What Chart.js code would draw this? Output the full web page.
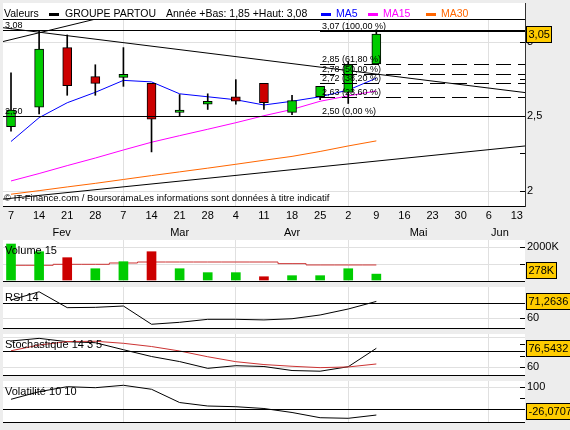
<!DOCTYPE html>
<html lang="fr">
<head>
<meta charset="utf-8">
<title>Groupe Partou</title>
<script src="https://cdn.jsdelivr.net/npm/chart.js@4.4.1/dist/chart.umd.min.js"></script>
<style>
  html, body { margin: 0; padding: 0; background: #ededed; }
  #board { position: relative; width: 570px; height: 430px; overflow: hidden; background: #ededed; }
  #board canvas { position: absolute; left: 0; }
</style>
</head>
<body>
<div id="board">
  <canvas id="priceChart" width="570" height="240" style="top:0px"></canvas>
  <canvas id="volumeChart" width="570" height="42" style="top:240px"></canvas>
  <canvas id="rsiChart" width="570" height="42" style="top:287px"></canvas>
  <canvas id="stochChart" width="570" height="42" style="top:334px"></canvas>
  <canvas id="volatChart" width="570" height="42" style="top:381px"></canvas>
</div>
<script>
// week ticks, 7 Feb -> 13 Jun
const weekLabels = ['7', '14', '21', '28', '7', '14', '21', '28', '4', '11', '18', '25', '2', '9', '16', '23', '30', '6', '13'];
const monthLabels = ['Fev', 'Mar', 'Avr', 'Mai', 'Jun'];
const monthLabelAt = [1.8, 6.0, 10.0, 14.5, 17.4];
const monthStarts = [4, 8, 12, 17];

// weekly candles
const open  = [2.43, 2.56, 2.96, 2.765, 2.76, 2.72, 2.525, 2.58, 2.63, 2.72, 2.525, 2.63, 2.66, 2.85];
const high  = [2.79, 3.07, 3.045, 2.845, 2.96, 2.72, 2.645, 2.65, 2.745, 2.72, 2.64, 2.70, 2.865, 3.08];
const low   = [2.40, 2.515, 2.64, 2.64, 2.70, 2.26, 2.50, 2.545, 2.58, 2.545, 2.51, 2.61, 2.585, 2.85];
const close = [2.54, 2.95, 2.705, 2.72, 2.78, 2.48, 2.54, 2.60, 2.60, 2.59, 2.605, 2.70, 2.845, 3.05];

const ma5  = [2.33, 2.49, 2.59, 2.66, 2.74, 2.73, 2.65, 2.63, 2.61, 2.575, 2.60, 2.63, 2.675, 2.755];
const ma15 = [2.065, 2.115, 2.168, 2.219, 2.273, 2.325, 2.369, 2.412, 2.456, 2.503, 2.545, 2.60, 2.636, 2.669];
const ma30 = [1.976, 2.0, 2.025, 2.049, 2.075, 2.101, 2.126, 2.151, 2.177, 2.204, 2.23, 2.263, 2.30, 2.334];

// trend lines as (week, price) end points
const trendHigh  = [{ x: -0.3, y: 3.094 }, { x: 18.3, y: 2.658 }];
const trendSteep = [{ x: -0.3, y: 3.0 }, { x: 4, y: 3.197 }];
const trendLow   = [{ x: -0.3, y: 1.943 }, { x: 18.3, y: 2.30 }];

const yearLow = 1.85;
const yearHigh = 3.08;
const supportLevel = 2.50;
const fibLevels = [3.07, 2.85, 2.78, 2.72, 2.63, 2.50];
const fibRatios = [100, 61.8, 50, 38.2, 23.6, 0];
const fibFromWeek = 11;

// volume in thousands
const volume     = [2200, 1730, 1365, 690, 1120, 1730, 690, 450, 450, 200, 265, 265, 690, 360];
const volumeMa15 = [900, 900, 960, 960, 1040, 1100, 1100, 1100, 1100, 1100, 1000, 920, 920, 920];
const lastVolume = 278;

const rsi14  = [72.2, 77.7, 67.1, 67.3, 68.2, 56.0, 57.3, 59.3, 59.3, 58.9, 59.7, 62.2, 66.2, 71.2636];
const stochK = [82.9, 85.2, 82.3, 81.4, 75.3, 69.4, 65.0, 59.1, 61.4, 60.7, 57.2, 56.6, 60.5, 76.5432];
const stochD = [74.4, 79.4, 82.4, 82.7, 80.9, 78.1, 74.2, 69.2, 64.9, 62.4, 60.9, 59.7, 60.3, 62.9];
const volatility = [45.5, 80, 102.7, 98.2, 109.1, 91, 30.7, 15, 11.8, 3.6, -14.5, -38.2, -40.9, -26.0707];

const FONT = '"Liberation Sans", Arial, Helvetica, sans-serif';
const GREEN = '#00cc00';
const RED = '#cc0000';
const GRID = '#e0e0e0';
const X_MIN = -0.285;
const X_MAX = 18.29;

Chart.defaults.font.family = FONT;
Chart.defaults.font.size = 11;
Chart.defaults.color = '#000';

const weeks = close.map((_, i) => i);
const fmt = (v, d) => v.toFixed(d).replace('.', ',');
const crisp = v => Math.round(v) + 0.5;
const points = values => values.map((v, i) => ({ x: i, y: v }));

function hline(ctx, x0, x1, y) {
  ctx.beginPath();
  ctx.moveTo(x0, y);
  ctx.lineTo(x1, y);
  ctx.stroke();
}

function lineDs(label, values, color, order) {
  return {
    type: 'line', label, data: Array.isArray(values) && typeof values[0] === 'number' ? points(values) : values,
    borderColor: color, borderWidth: 1, pointRadius: 0, tension: 0, order: order || 2
  };
}

// white panel, grid, reference line, right ticks, bottom border, name and value box
function panelDecor(cfg) {
  return {
    id: 'panelDecor',
    beforeDraw(chart) {
      const { ctx, chartArea: a } = chart;
      const top = a.top - (cfg.header || 0);
      ctx.save();
      ctx.fillStyle = '#fff';
      ctx.fillRect(a.left, top, a.right - a.left + (cfg.rightBorder ? 1 : 0), a.bottom - top);
      ctx.restore();
    },
    beforeDatasetsDraw(chart) {
      const { ctx, chartArea: a, scales: { y } } = chart;
      ctx.save();
      ctx.strokeStyle = GRID;
      ctx.lineWidth = 1;
      (cfg.grid || []).forEach(v => hline(ctx, a.left, a.right, crisp(y.getPixelForValue(v))));
      ctx.restore();
    },
    afterDatasetsDraw(chart) {
      const { ctx, chartArea: a, scales: { y } } = chart;
      ctx.save();
      ctx.strokeStyle = '#000';
      ctx.lineWidth = 1;
      if (cfg.ref != null) hline(ctx, a.left, a.right, crisp(y.getPixelForValue(cfg.ref)));
      y.ticks.forEach(t => hline(ctx, a.right - 5, a.right, crisp(y.getPixelForValue(t.value))));
      hline(ctx, a.left, a.right, a.bottom + 0.5);
      if (cfg.rightBorder) {
        ctx.strokeStyle = '#333';
        ctx.beginPath();
        ctx.moveTo(a.right + 0.5, a.top - (cfg.header || 0));
        ctx.lineTo(a.right + 0.5, a.bottom + 1);
        ctx.stroke();
      }
      if (cfg.title) {
        ctx.fillStyle = '#000';
        ctx.font = '11px ' + FONT;
        ctx.fillText(cfg.title, a.left + 2, a.top + 14);
      }
      ctx.restore();
    },
    afterDraw(chart) {
      if (cfg.boxValue == null) return;
      const { ctx, chartArea: a, scales: { y } } = chart;
      ctx.save();
      ctx.font = '11px ' + FONT;
      const w = Math.round(ctx.measureText(cfg.boxText).width) + 5;
      const h = 17;
      let top = Math.round(y.getPixelForValue(cfg.boxValue) - h / 2);
      top = Math.max(a.top, Math.min(top, a.bottom - h - 2));
      ctx.fillStyle = '#ffcc00';
      ctx.fillRect(a.right + 1, top, w, h);
      ctx.strokeStyle = '#000';
      ctx.lineWidth = 1;
      ctx.strokeRect(a.right + 1.5, top + 0.5, w - 1, h - 1);
      ctx.fillStyle = '#000';
      ctx.textBaseline = 'middle';
      ctx.fillText(cfg.boxText, a.right + 3.5, top + h / 2 + 0.5);
      ctx.restore();
    }
  };
}

// levels, fibonacci retracement, title row and credit of the price panel
const priceOverlay = {
  id: 'priceOverlay',
  afterDatasetsDraw(chart) {
    const { ctx, chartArea: a, scales: { x, y } } = chart;
    ctx.save();
    ctx.lineWidth = 1;
    ctx.strokeStyle = '#000';
    ctx.fillStyle = '#000';
    hline(ctx, a.left, a.right, a.top + 0.5);

    ctx.font = '9px ' + FONT;
    [yearHigh, supportLevel].forEach(v => {
      const py = crisp(y.getPixelForValue(v));
      hline(ctx, a.left, a.right, py);
      ctx.fillText(fmt(v, 2), a.left + 2, py - 3);
    });

    const fx = Math.round(x.getPixelForValue(fibFromWeek));
    fibLevels.forEach((v, i) => {
      const py = crisp(y.getPixelForValue(v));
      const solid = i === 0 || i === fibLevels.length - 1;
      ctx.setLineDash(solid ? [] : [15, 7]);
      hline(ctx, fx, a.right, py);
      ctx.fillText(fmt(v, 2) + ' (' + fmt(fibRatios[i], 2) + ' %)', fx + 2, py - 3);
    });
    ctx.setLineDash([]);

    ctx.font = '9.5px ' + FONT;
    ctx.fillText('\u00a9 IT-Finance.com / BoursoramaLes informations sont donn\u00e9es \u00e0 titre indicatif', a.left + 1, a.bottom - 5);

    // title row
    const base = a.top - 2;
    ctx.font = '10.5px ' + FONT;
    ctx.fillText('Valeurs', 4, base);
    ctx.fillRect(49, 13, 10, 3);
    ctx.fillText('GROUPE PARTOU', 65, base);
    ctx.fillText('Ann\u00e9e +Bas: ' + fmt(yearLow, 2) + ' +Haut: ' + fmt(yearHigh, 2), 166, base);
    [['MA5', '#0000ff', 321], ['MA15', '#ff00ff', 368], ['MA30', '#ff6600', 426]].forEach(([label, color, lx]) => {
      ctx.fillStyle = color;
      ctx.fillRect(lx, 13, 10, 3);
      ctx.fillText(label, lx + 15, base);
    });
    ctx.restore();
  }
};

function weekAxis(extra) {
  return Object.assign({
    type: 'linear', position: 'bottom', min: X_MIN, max: X_MAX, offset: false,
    border: { display: false },
    grid: { offset: false, drawTicks: false, color: c => (c.tick && monthStarts.includes(c.tick.value)) ? GRID : 'rgba(0,0,0,0)' },
    ticks: { display: false },
    afterBuildTicks: s => { s.ticks = weekLabels.map((_, i) => ({ value: i })); },
    afterFit: s => { s.height = 0; s.paddingLeft = 0; s.paddingRight = 0; }
  }, extra);
}

function valueAxis(min, max, tickValues, labels) {
  return {
    type: 'linear', position: 'right', min, max,
    border: { display: false },
    grid: { display: false, drawTicks: false },
    afterBuildTicks: s => { s.ticks = tickValues.map(v => ({ value: v })); },
    ticks: { padding: 2, autoSkip: false, callback: v => labels[v] || '' },
    afterFit: s => { s.width = 45; s.paddingTop = 0; s.paddingBottom = 0; }
  };
}

function baseOptions(scales, padding) {
  return {
    responsive: false,
    animation: false,
    events: [],
    layout: { padding },
    plugins: { legend: { display: false }, tooltip: { enabled: false } },
    scales
  };
}

const panelPadding = { left: 3, top: 0, right: 0, bottom: 1 };

new Chart(document.getElementById('priceChart'), {
  type: 'bar',
  data: {
    datasets: [
      {
        label: 'Corps', data: weeks.map(i => ({ x: i, y: [open[i], close[i]] })),
        backgroundColor: weeks.map(i => close[i] >= open[i] ? GREEN : RED),
        borderColor: '#000', borderWidth: 1, borderSkipped: false,
        barThickness: 9, grouped: false, order: 0
      },
      {
        label: 'Meches', data: weeks.map(i => ({ x: i, y: [low[i], high[i]] })),
        backgroundColor: '#000', borderWidth: 0, barThickness: 1, grouped: false, order: 1
      },
      lineDs('MA5', ma5, '#0000ff'),
      lineDs('MA15', ma15, '#ff00ff'),
      lineDs('MA30', ma30, '#ff6600'),
      lineDs('Resistance', trendHigh, '#000', 3),
      lineDs('Tendance', trendSteep, '#000', 3),
      lineDs('Support', trendLow, '#000', 3)
    ]
  },
  options: baseOptions({
    x: weekAxis({
      weight: 0,
      ticks: { autoSkip: false, maxRotation: 0, padding: 3, callback: v => weekLabels[v] },
      afterFit: s => { s.height = 18; s.paddingLeft = 0; s.paddingRight = 0; }
    }),
    x2: {
      type: 'linear', position: 'bottom', min: X_MIN, max: X_MAX, offset: false, weight: 1,
      border: { display: false }, grid: { display: false, drawTicks: false },
      afterBuildTicks: s => { s.ticks = monthLabelAt.map(v => ({ value: v })); },
      ticks: { autoSkip: false, maxRotation: 0, padding: 2, callback: (v, i) => monthLabels[i] },
      afterFit: s => { s.height = 16; s.paddingLeft = 0; s.paddingRight = 0; }
    },
    y: valueAxis(1.897, 3.152, [2, 2.25, 2.5, 2.75, 3], { 2: '2', 2.5: '2,5', 3: '3' })
  }, { left: 3, top: 19, right: 0, bottom: 0 }),
  plugins: [panelDecor({ header: 16, grid: [2, 3], rightBorder: true, boxValue: close[close.length - 1], boxText: fmt(close[close.length - 1], 2) }), priceOverlay]
});

new Chart(document.getElementById('volumeChart'), {
  type: 'bar',
  data: {
    datasets: [
      Object.assign(lineDs('Moyenne 15', volumeMa15, '#cc3333', 0), { stepped: 'middle' }),
      {
        label: 'Volume', data: points(volume),
        backgroundColor: weeks.map(i => (i === 0 || close[i] >= close[i - 1]) ? GREEN : RED),
        borderWidth: 0, barThickness: 9, grouped: false, order: 1
      }
    ]
  },
  options: baseOptions({
    x: weekAxis(),
    y: valueAxis(-61, 2446, [1000, 2000], { 2000: '2000K' })
  }, panelPadding),
  plugins: [panelDecor({ title: 'Volume 15', grid: [1000, 2000], boxValue: lastVolume, boxText: lastVolume + 'K' })]
});

new Chart(document.getElementById('rsiChart'), {
  type: 'line',
  data: { datasets: [lineDs('RSI 14', rsi14, '#000')] },
  options: baseOptions({
    x: weekAxis(),
    y: valueAxis(53.5, 80.9, [60, 70], { 60: '60' })
  }, panelPadding),
  plugins: [panelDecor({ title: 'RSI 14', grid: [60], ref: 70, boxValue: rsi14[rsi14.length - 1], boxText: fmt(rsi14[rsi14.length - 1], 4) })]
});

new Chart(document.getElementById('stochChart'), {
  type: 'line',
  data: { datasets: [lineDs('%K', stochK, '#000', 0), lineDs('%D', stochD, '#cc3333', 1)] },
  options: baseOptions({
    x: weekAxis(),
    y: valueAxis(53.3, 89.0, [60, 70, 80], { 60: '60' })
  }, panelPadding),
  plugins: [panelDecor({ title: 'Stochastique 14 3 5', grid: [60, 86], ref: 74, boxValue: stochK[stochK.length - 1], boxText: fmt(stochK[stochK.length - 1], 4) })]
});

new Chart(document.getElementById('volatChart'), {
  type: 'line',
  data: { datasets: [lineDs('Volatilite', volatility, '#000')] },
  options: baseOptions({
    x: weekAxis(),
    y: valueAxis(-57.7, 128.6, [0, 50, 100], { 100: '100' })
  }, panelPadding),
  plugins: [panelDecor({ title: 'Volatilit\u00e9 10 10', grid: [100], ref: 0, boxValue: volatility[volatility.length - 1], boxText: fmt(volatility[volatility.length - 1], 4) })]
});
</script>
</body>
</html>
